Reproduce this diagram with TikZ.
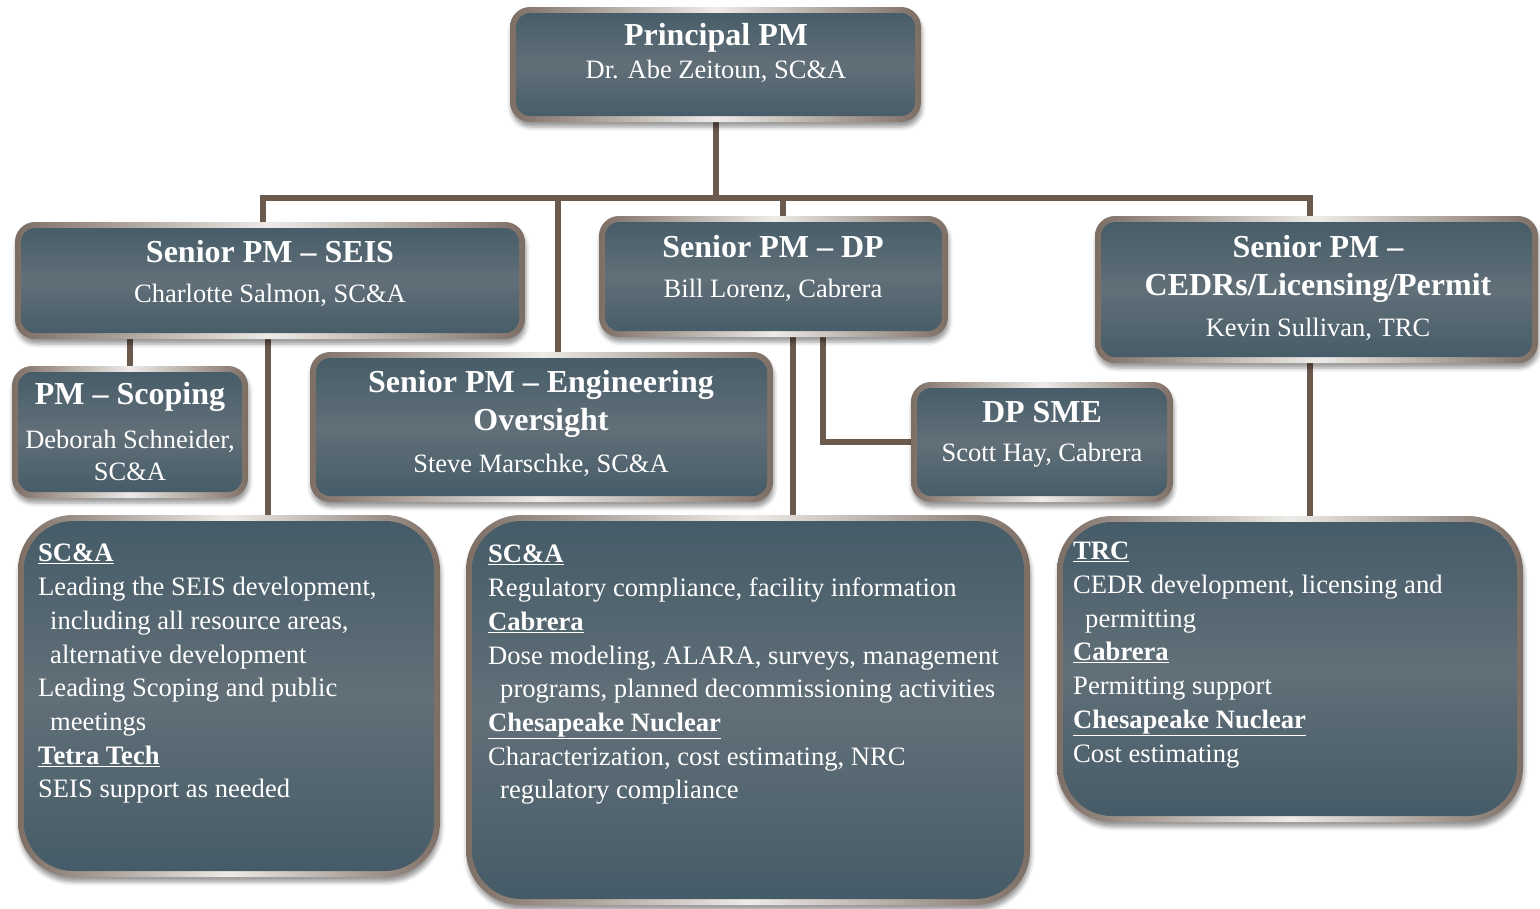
\documentclass[tikz,border=0pt]{standalone}
\usepackage{fontspec}
\setmainfont{Liberation Serif}
\usetikzlibrary{shadows.blur,backgrounds}
\definecolor{rimc}{RGB}{125,110,100}
\definecolor{rimhi}{RGB}{238,235,232}
\definecolor{fillc}{RGB}{68,91,103}
\definecolor{fillmid}{RGB}{97,111,120}
\definecolor{linkc}{RGB}{107,90,78}
\newcommand{\firm}[1]{\underline{\textbf{#1}}}
\tikzset{
  panel/.style={rounded corners=#1, inner sep=0pt, left color=rimc, right color=rimc, middle color=rimhi,
    blur shadow={shadow xshift=1pt, shadow yshift=-5pt, shadow blur radius=4pt, shadow opacity=40},
    path picture={\shade[rounded corners=#1-6pt, top color=fillc, bottom color=fillc, middle color=fillmid]
      ([shift={(6pt,-6pt)}]path picture bounding box.north west) rectangle
      ([shift={(-6pt,6pt)}]path picture bounding box.south east);}},
  box/.style={panel=20pt},
  bigbox/.style={panel=55pt},
  ttl/.style={text=white, font=\fontsize{32}{38.5}\selectfont\bfseries, align=center, inner sep=0pt},
  nm/.style={text=white, font=\fontsize{26.5}{32}\selectfont, align=center, inner sep=0pt},
  desc/.style={text=white, font=\fontsize{26.6}{33.7}\selectfont, align=left, anchor=north west, inner sep=0pt},
  link/.style={draw=linkc, line width=6pt}
}
\begin{document}
\begin{tikzpicture}[x=1pt,y=-1pt]
\useasboundingbox (0,0) rectangle (1540,908);

\node[box, minimum width=411, minimum height=115] (ppm) at (715.5,64.5) {};
\node[ttl] (ppmt) at (716,38) {Principal PM};
\node[nm] (ppmn) at (716,71) {Dr. Abe Zeitoun, SC\&A};

\node[box, minimum width=510, minimum height=117] (seis) at (270,280.5) {};
\node[ttl] (seist) at (270,252) {Senior PM -- SEIS};
\node[nm] (seisn) at (270,295) {Charlotte Salmon, SC\&A};

\node[box, minimum width=349, minimum height=121] (dp) at (773.5,276.5) {};
\node[ttl] (dpt) at (773,247) {Senior PM -- DP};
\node[nm] (dpn) at (773,290) {Bill Lorenz, Cabrera};

\node[box, minimum width=443, minimum height=147] (cedr) at (1316.5,289.5) {};
\node[ttl] (cedrt) at (1318,269) {Senior PM --\\CEDRs/Licensing/Permit};
\node[nm] (cedrn) at (1318,329) {Kevin Sullivan, TRC};

\node[box, minimum width=236, minimum height=132] (scop) at (130,432) {};
\node[ttl] (scopt) at (130,397) {PM -- Scoping};
\node[nm] (scopn) at (130,455) {Deborah Schneider,\\SC\&A};

\node[box, minimum width=463, minimum height=150] (eng) at (541.5,427) {};
\node[ttl] (engt) at (541,404) {Senior PM -- Engineering\\Oversight};
\node[nm] (engn) at (541,465) {Steve Marschke, SC\&A};

\node[box, minimum width=262, minimum height=120] (sme) at (1042,442) {};
\node[ttl] (smet) at (1042,412) {DP SME};
\node[nm] (smen) at (1042,455) {Scott Hay, Cabrera};

\node[bigbox, minimum width=422, minimum height=362] (sea) at (229,696) {};
\node[desc] (seat) at (38,544) {\firm{SC\&A}\\
  Leading the SEIS development,\\
  \hspace*{12pt}including all resource areas,\\
  \hspace*{12pt}alternative development\\
  Leading Scoping and public\\
  \hspace*{12pt}meetings\\
  \firm{Tetra Tech}\\
  SEIS support as needed};

\node[bigbox, minimum width=564, minimum height=390] (dpa) at (748,710) {};
\node[desc] (dpat) at (488,545) {\firm{SC\&A}\\
  Regulatory compliance, facility information\\
  \firm{Cabrera}\\
  Dose modeling, ALARA, surveys, management\\
  \hspace*{12pt}programs, planned decommissioning activities\\
  \firm{Chesapeake Nuclear}\\
  Characterization, cost estimating, NRC\\
  \hspace*{12pt}regulatory compliance};

\node[bigbox, minimum width=466, minimum height=306] (trc) at (1290,669) {};
\node[desc] (trct) at (1073,542) {\firm{TRC}\\
  CEDR development, licensing and\\
  \hspace*{12pt}permitting\\
  \firm{Cabrera}\\
  Permitting support\\
  \firm{Chesapeake Nuclear}\\
  Cost estimating};

\coordinate (j1) at (263,198);
\coordinate (j2) at (558,198);
\coordinate (j3) at (783,198);
\coordinate (j4) at (1310,198);
\coordinate (k1) at (268,420);
\coordinate (k2) at (793,420);
\coordinate (k3) at (823,420);

\begin{scope}[on background layer]
\draw[link] (ppm.south) -- (ppm.south |- j1);
\draw[link] (j1 |- seis.north) -- (j1) -- (j4) -- (j4 |- cedr.north);
\draw[link] (j2) -- (j2 |- eng.north);
\draw[link] (j3) -- (j3 |- dp.north);
\draw[link] (seis.south -| scop.north) -- (scop.north);
\draw[link] (seis.south -| k1) -- (sea.north -| k1);
\draw[link] (dp.south -| k2) -- (dpa.north -| k2);
\draw[link] (dp.south -| k3) |- (sme.west);
\draw[link] (cedr.south -| j4) -- (trc.north -| j4);
\end{scope}
\end{tikzpicture}
\end{document}
